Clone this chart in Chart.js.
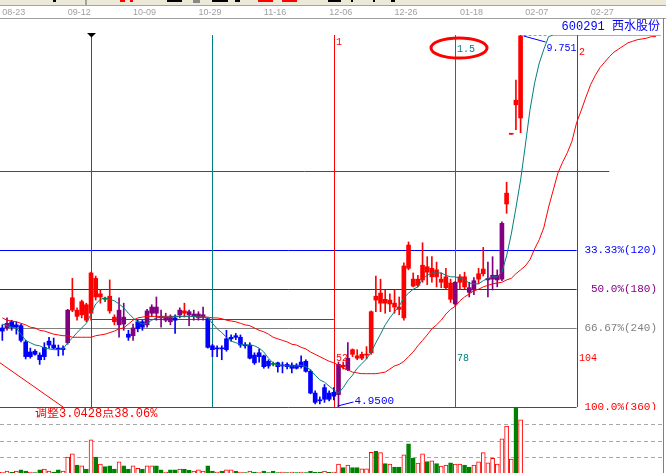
<!DOCTYPE html>
<html>
<head>
<meta charset="utf-8">
<title>600291 西水股份</title>
<script src="https://cdn.jsdelivr.net/npm/chart.js@4.4.1/dist/chart.umd.min.js"></script>
<style>
  html, body { margin: 0; padding: 0; background: #fff; overflow: hidden; }
  #wrap { position: relative; width: 666px; height: 473px; overflow: hidden; }
  #tool { position: absolute; left: 0; top: 0; width: 666px; height: 5px; background: #ece9d8; border-bottom: 1px solid #a5a597; }
  #tool i { position: absolute; top: 0; height: 2px; background: #000; }
  #tool i.r { background: #f00; }
  #tool i.g { background: #888; height: 3px; }
  #tool i.s { background: #a5a597; height: 5px; width: 2px; }
  #rule { position: absolute; left: 0; top: 18px; width: 666px; height: 1px; background: #a0a0a0; }
  #edge { position: absolute; left: 663px; top: 18px; width: 1px; height: 455px; background: #808080; }
  canvas { position: absolute; left: 0; }
  #price { top: 0; }
  #vol { top: 407px; }
</style>
</head>
<body>
<div id="wrap">
  <div id="tool">
    <i style="left:53px;width:3px"></i><i class="s" style="left:85px"></i>
    <i class="r" style="left:120px;width:5px"></i><i class="r" style="left:130px;width:3px"></i>
    <i style="left:167px;width:15px"></i><i class="g" style="left:193px;width:7px"></i>
    <i style="left:212px;width:16px"></i><i style="left:235px;width:5px"></i>
    <i class="r" style="left:258px;width:15px"></i><i class="r" style="left:282px;width:15px"></i>
    <i style="left:328px;width:13px"></i><i style="left:351px;width:2px"></i>
    <i style="left:373px;width:2px"></i><i style="left:391px;width:4px"></i>
  </div>
  <div id="rule"></div>
  <div id="edge"></div>
  <canvas id="price" width="666" height="410"></canvas>
  <canvas id="vol" width="666" height="67"></canvas>
</div>
<script>
// 1 slot = 1 trading day; chart keeps room to the right of the last bar
const SLOTS = 142;

const dateTicks = [0, 14, 28, 42, 56, 70, 84, 98, 112, 126];
const dateLabels = ["08-23", "09-12", "10-09", "10-29", "11-16", "12-06", "12-26", "01-18", "02-07", "02-27"];

// daily K line
const open = [
  5.97, 5.97, 6.05, 6.01, 6.00, 5.79, 5.66, 5.67, 5.62, 5.72,
  5.80, 5.75, 5.71, 5.71, 5.78, 6.20, 6.12, 6.14, 6.07, 6.16,
  6.37, 6.37, 6.34, 6.19, 6.05, 6.01, 6.11, 5.89, 5.87, 6.05,
  6.05, 6.01, 6.16, 6.24, 6.12, 6.07, 6.11, 6.10, 6.14, 6.16,
  6.18, 6.12, 6.10, 6.11, 6.09, 5.74, 5.71, 5.71, 5.83, 5.85,
  5.87, 5.85, 5.75, 5.75, 5.62, 5.65, 5.61, 5.54, 5.50, 5.52,
  5.49, 5.50, 5.49, 5.49, 5.53, 5.54, 5.41, 5.13, 5.04, 5.20,
  5.13, 5.14, 5.11, 5.47, 5.43, 5.63, 5.58, 5.58, 5.62, 5.65,
  6.33, 6.29, 6.29, 6.28, 6.24, 6.21, 6.10, 6.74, 6.51, 6.52,
  6.59, 6.69, 6.63, 6.63, 6.56, 6.49, 6.34, 6.28, 6.56, 6.50,
  6.49, 6.46, 6.60, 6.67, 6.59, 6.60, 6.59, 6.60, 7.57, 8.47,
  8.85, 8.68
];
const high = [
  6.01, 6.10, 6.07, 6.05, 6.02, 5.81, 5.71, 5.69, 5.65, 5.78,
  5.85, 5.84, 5.75, 5.74, 6.21, 6.61, 6.23, 6.33, 6.29, 6.69,
  6.64, 6.46, 6.37, 6.59, 6.14, 6.36, 6.29, 5.94, 6.02, 6.07,
  6.07, 6.21, 6.27, 6.37, 6.20, 6.16, 6.14, 6.14, 6.23, 6.29,
  6.20, 6.20, 6.18, 6.24, 6.10, 5.76, 5.74, 5.74, 5.94, 5.88,
  5.90, 5.88, 5.78, 5.78, 5.65, 5.70, 5.62, 5.56, 5.53, 5.53,
  5.53, 5.52, 5.52, 5.51, 5.61, 5.56, 5.43, 5.16, 5.08, 5.24,
  5.16, 5.20, 5.53, 5.53, 5.78, 5.70, 5.69, 5.66, 5.73, 6.19,
  6.64, 6.60, 6.46, 6.41, 6.46, 6.37, 6.81, 7.08, 6.68, 6.65,
  7.07, 6.89, 6.89, 6.82, 6.68, 6.74, 6.60, 6.57, 6.66, 6.69,
  6.56, 6.62, 6.74, 7.01, 6.82, 6.89, 6.72, 7.34, 7.85, 8.47,
  9.17, 9.751
];
const low = [
  5.81, 5.94, 5.94, 5.89, 5.79, 5.57, 5.58, 5.62, 5.50, 5.56,
  5.71, 5.70, 5.61, 5.62, 5.76, 6.18, 6.07, 6.10, 6.05, 6.07,
  6.33, 6.29, 6.31, 6.16, 6.01, 5.85, 5.94, 5.81, 5.81, 5.92,
  5.94, 5.98, 6.12, 6.07, 5.98, 6.05, 6.01, 5.90, 6.10, 6.11,
  6.00, 6.07, 6.07, 6.07, 5.71, 5.60, 5.60, 5.56, 5.67, 5.80,
  5.82, 5.72, 5.71, 5.57, 5.50, 5.53, 5.45, 5.45, 5.48, 5.40,
  5.39, 5.44, 5.39, 5.44, 5.45, 5.40, 5.12, 4.99, 4.99, 5.01,
  5.03, 5.04, 4.95, 5.44, 5.42, 5.60, 5.56, 5.56, 5.57, 5.63,
  6.18, 6.18, 6.16, 6.18, 6.16, 6.14, 6.07, 6.72, 6.50, 6.50,
  6.56, 6.53, 6.56, 6.50, 6.49, 6.47, 6.30, 6.26, 6.47, 6.47,
  6.37, 6.40, 6.54, 6.64, 6.37, 6.46, 6.50, 6.58, 7.45, 8.47,
  8.53, 8.49
];
const close = [
  5.93, 6.03, 5.98, 5.98, 5.81, 5.60, 5.60, 5.63, 5.56, 5.60,
  5.75, 5.71, 5.69, 5.69, 6.20, 6.36, 6.20, 6.31, 6.27, 6.68,
  6.61, 6.41, 6.34, 6.38, 6.11, 6.20, 6.02, 5.85, 5.97, 5.96,
  5.98, 6.19, 6.24, 6.16, 6.10, 6.11, 6.05, 6.07, 6.20, 6.19,
  6.14, 6.15, 6.15, 6.14, 5.72, 5.69, 5.70, 5.70, 5.69, 5.83,
  5.85, 5.75, 5.74, 5.58, 5.52, 5.60, 5.47, 5.48, 5.50, 5.47,
  5.48, 5.47, 5.45, 5.45, 5.47, 5.41, 5.13, 5.01, 5.03, 5.05,
  5.05, 5.09, 5.50, 5.49, 5.58, 5.69, 5.61, 5.63, 5.63, 6.18,
  6.38, 6.42, 6.34, 6.33, 6.29, 6.24, 6.77, 7.04, 6.60, 6.60,
  6.78, 6.76, 6.74, 6.72, 6.60, 6.63, 6.55, 6.56, 6.63, 6.63,
  6.43, 6.58, 6.67, 6.73, 6.61, 6.65, 6.65, 7.32, 7.71, 8.47,
  8.91, 9.74
];
// colour class the software gives each K bar (r up, b down, p signal, g doji)
const tone = [
  "b","p","b","b","b","b","b","b","b","b",
  "b","b","b","b","p","r","r","r","r","r",
  "r","r","g","r","r","p","p","b","p","b",
  "b","p","p","p","p","p","p","b","p","r",
  "p","p","p","p","b","b","b","b","b","b",
  "b","b","b","b","b","b","b","b","g","b",
  "b","b","b","b","b","b","b","b","b","b",
  "b","b","p","r","p","r","r","r","r","r",
  "r","r","r","r","r","r","r","r","r","r",
  "r","r","r","r","r","r","r","p","r","r",
  "p","p","r","r","p","p","p","p","r","r",
  "r","r"
];

// volume (per 100k lots) and its up/down side
const volume = [
  0.10, 0.18, 0.10, 0.18, 0.25, 0.18, 0.12, 0.08, 0.25, 0.30,
  0.18, 0.12, 0.25, 0.18, 1.04, 1.23, 0.55, 0.50, 0.30, 2.09,
  1.04, 0.60, 0.45, 0.50, 0.30, 0.74, 0.50, 0.30, 0.50, 0.35,
  0.30, 0.50, 0.50, 0.50, 0.25, 0.12, 0.25, 0.25, 0.30, 0.30,
  0.22, 0.18, 0.25, 0.18, 0.50, 0.18, 0.12, 0.18, 0.25, 0.25,
  0.18, 0.12, 0.08, 0.18, 0.12, 0.08, 0.18, 0.08, 0.18, 0.08,
  0.12, 0.08, 0.12, 0.08, 0.12, 0.08, 0.18, 0.10, 0.12, 0.18,
  0.10, 0.12, 0.61, 0.39, 0.55, 0.39, 0.39, 0.31, 0.31, 1.33,
  1.41, 1.31, 0.63, 0.61, 0.43, 0.43, 1.17, 1.84, 0.98, 0.67,
  1.23, 0.76, 0.80, 0.63, 0.49, 0.55, 0.69, 0.61, 0.61, 0.55,
  0.43, 0.55, 0.74, 1.31, 0.69, 0.96, 0.61, 2.15, 2.94, 0.92,
  4.09, 3.31
];
const volSide = [
  "u","u","d","u","d","d","u","d","d","u",
  "u","d","d","u","u","u","d","u","d","u",
  "d","u","d","d","d","u","d","d","u","u",
  "d","u","u","d","d","u","d","d","u","d",
  "d","u","u","u","d","d","u","d","u","u",
  "d","u","d","u","d","u","d","d","d","d",
  "u","d","u","d","u","d","d","d","d","u",
  "d","u","u","d","u","d","d","u","u","u",
  "d","u","d","u","d","d","u","d","d","u",
  "u","d","u","d","u","u","d","u","u","d",
  "d","u","u","u","u","u","u","u","u","u",
  "d","u"
];

// the two average lines (teal fast, red slow), they run past the last bar
const maFast = [
  6.02, 6.00, 5.98, 5.97, 5.89, 5.81, 5.78, 5.75, 5.74, 5.71,
  5.70, 5.69, 5.69, 5.70, 5.78, 5.84, 5.91, 5.97, 6.03, 6.15,
  6.28, 6.34, 6.36, 6.34, 6.32, 6.28, 6.23, 6.16, 6.10, 6.05,
  6.02, 6.03, 6.07, 6.10, 6.11, 6.11, 6.11, 6.12, 6.12, 6.12,
  6.12, 6.12, 6.11, 6.11, 6.10, 6.03, 5.96, 5.91, 5.85, 5.80,
  5.78, 5.76, 5.75, 5.75, 5.74, 5.71, 5.66, 5.58, 5.52, 5.49,
  5.49, 5.48, 5.48, 5.48, 5.49, 5.47, 5.43, 5.36, 5.30, 5.27,
  5.22, 5.17, 5.13, 5.20, 5.29, 5.36, 5.45, 5.51, 5.57, 5.66,
  5.78, 5.89, 6.01, 6.10, 6.18, 6.25, 6.36, 6.42, 6.47, 6.50,
  6.60, 6.65, 6.68, 6.68, 6.68, 6.65, 6.63, 6.63, 6.61, 6.59,
  6.55, 6.54, 6.54, 6.58, 6.61, 6.63, 6.63, 6.69, 6.90, 7.18,
  7.52, 7.88, 8.32, 8.78, 9.13, 9.39, 9.57, 9.73, 9.751, 9.751,
  9.751, 9.751, 9.751, 9.751, 9.751, 9.751, 9.751, 9.751, 9.751, 9.751,
  9.751, 9.751, 9.751, 9.751, 9.751, 9.751, 9.751, 9.751, 9.751, 9.751,
  9.751, 9.751
];
const maSlow = [
  6.10, 6.07, 6.06, 6.05, 6.03, 6.01, 5.98, 5.97, 5.94, 5.93,
  5.91, 5.89, 5.88, 5.87, 5.87, 5.85, 5.85, 5.85, 5.85, 5.85,
  5.87, 5.88, 5.89, 5.91, 5.93, 5.96, 5.97, 6.02, 6.07, 6.10,
  6.11, 6.12, 6.12, 6.12, 6.12, 6.12, 6.12, 6.12, 6.12, 6.12,
  6.12, 6.12, 6.11, 6.11, 6.11, 6.10, 6.10, 6.09, 6.07, 6.06,
  6.05, 6.03, 6.01, 6.00, 5.97, 5.94, 5.92, 5.89, 5.85, 5.83,
  5.81, 5.79, 5.76, 5.75, 5.72, 5.70, 5.66, 5.63, 5.60, 5.57,
  5.54, 5.52, 5.49, 5.45, 5.43, 5.40, 5.39, 5.38, 5.38, 5.38,
  5.38, 5.39, 5.40, 5.44, 5.48, 5.50, 5.54, 5.60, 5.66, 5.74,
  5.81, 5.88, 5.96, 6.01, 6.07, 6.15, 6.21, 6.25, 6.32, 6.37,
  6.41, 6.45, 6.47, 6.50, 6.52, 6.54, 6.55, 6.56, 6.59, 6.61,
  6.67, 6.72, 6.77, 6.85, 6.99, 7.11, 7.27, 7.53, 7.75, 7.97,
  8.11, 8.23, 8.38, 8.62, 8.78, 8.95, 9.11, 9.23, 9.33, 9.40,
  9.47, 9.53, 9.57, 9.61, 9.65, 9.67, 9.69, 9.70, 9.71, 9.73,
  9.73, null
];
// old falling trend line, lower left
const trendLine = [[-0.5, 5.52], [13, 4.95]];

// golden-section style adjustment levels from 7.9928 down to the low
const adjustFrom = 7.9928;
const fibPct = [0, 33.33, 50, 66.67, 100];
const fibText = ["", "33.33%(120)", "50.0%(180)", "66.67%(240)", "100.0%(360)"];
const boxLevel = 6.09;
const boxFrom = 19, boxTo = 71;

// time cycle lines every 26 bars
const cycleIdx = [19, 45, 71, 97, 123];
const cycleTop = ["", "", "1", "1.5", "2"];
const cycleCount = ["", "", "52", "78", "104"];

const title = "600291 西水股份";
const adjustText = "调整3.0428点38.06%";

// ---- styles ----
const palette = { r: "#ff0000", b: "#0000ff", p: "#800080", g: "#008000" };
const TEAL = "#008080", GREY = "#808080";
const fibColor = [palette.r, palette.b, palette.p, GREY, palette.r];
const fibEnd = [130, 123, 123, 123, 123];
const cycleColor = [palette.r, TEAL, palette.r, TEAL, palette.r];
const cycleTopY = [0, 0, 42, 49, 52];
const MONO = "'Liberation Mono', 'DejaVu Sans Mono', 'Noto Sans CJK SC', monospace";

const lo = Math.min(...low), hi = Math.max(...high);
const fibPrice = (p) => adjustFrom - (p / 100) * (adjustFrom - lo);
const snap = (v) => Math.round(v) + 0.5;

function seg(ctx, x1, y1, x2, y2, color) {
  ctx.strokeStyle = color;
  ctx.beginPath();
  ctx.moveTo(x1, y1);
  ctx.lineTo(x2, y2);
  ctx.stroke();
}

const marks = {
  id: "marks",
  beforeDatasetsDraw(chart) {
    const { ctx, chartArea: a, scales: { x, y } } = chart;
    ctx.save();
    ctx.lineWidth = 1;
    fibPct.forEach((p, k) => {
      const py = snap(y.getPixelForValue(fibPrice(p)));
      seg(ctx, a.left, py, x.getPixelForValue(fibEnd[k]), py, fibColor[k]);
    });
    const by = snap(y.getPixelForValue(boxLevel));
    seg(ctx, x.getPixelForValue(boxFrom), by, x.getPixelForValue(boxTo), by, palette.r);
    cycleIdx.forEach((i, k) => {
      const px = snap(x.getPixelForValue(i));
      seg(ctx, px, a.top, px, a.bottom, cycleColor[k]);
    });
    ctx.restore();
  },
  afterDatasetsDraw(chart) {
    const { ctx, chartArea: a, scales: { x, y } } = chart;
    ctx.save();
    ctx.textBaseline = "middle";

    // level labels at the right
    ctx.font = "11px " + MONO;
    ctx.textAlign = "right";
    fibPct.forEach((p, k) => {
      if (!fibText[k]) return;
      ctx.fillStyle = fibColor[k];
      ctx.fillText(fibText[k], a.right - 6, snap(y.getPixelForValue(fibPrice(p))));
    });

    // cycle labels
    ctx.textAlign = "left";
    ctx.font = "10px " + MONO;
    cycleIdx.forEach((i, k) => {
      const px = Math.round(x.getPixelForValue(i));
      ctx.fillStyle = cycleColor[k];
      if (cycleTop[k]) ctx.fillText(cycleTop[k], px + 2, cycleTopY[k]);
      if (cycleCount[k]) ctx.fillText(cycleCount[k], px + 2, a.bottom - 49);
    });

    // red ring round "1.5"
    const ex = Math.round(x.getPixelForValue(cycleIdx[3])) + 4;
    ctx.strokeStyle = palette.r;
    ctx.lineWidth = 3;
    ctx.beginPath();
    ctx.ellipse(ex, 48, 28, 10, 0, 0, Math.PI * 2);
    ctx.stroke();

    // marker on the first cycle line
    const tx = snap(x.getPixelForValue(cycleIdx[0]));
    ctx.fillStyle = "#000";
    ctx.fillRect(tx - 4, a.top - 2, 8, 1);
    ctx.beginPath();
    ctx.moveTo(tx - 3.5, a.top - 1);
    ctx.lineTo(tx + 3.5, a.top - 1);
    ctx.lineTo(tx, a.top + 2.5);
    ctx.closePath();
    ctx.fill();

    // highest / lowest price tags
    ctx.lineWidth = 1;
    const hx = x.getPixelForValue(high.indexOf(hi)), hy = y.getPixelForValue(hi);
    ctx.setLineDash([3, 2]);
    seg(ctx, hx + 3, hy + 0.5, hx + 27, hy + 0.5, "#a0a0a0");
    ctx.setLineDash([]);
    seg(ctx, hx + 3, hy + 1, hx + 25, hy + 7, palette.b);
    ctx.fillStyle = palette.b;
    ctx.fillText(hi.toFixed(3), hx + 26, hy + 13);

    const lx = x.getPixelForValue(low.indexOf(lo)), ly = y.getPixelForValue(lo);
    seg(ctx, lx - 1, ly - 1, lx + 15, ly - 5, palette.b);
    ctx.font = "11px " + MONO;
    ctx.fillText(lo.toFixed(4), lx + 16, ly - 6);

    // stock name
    ctx.font = "12px " + MONO;
    ctx.textAlign = "right";
    ctx.fillStyle = palette.b;
    ctx.fillText(title, 660, 27);
    ctx.restore();
  }
};

const toneColor = (c) => palette[tone[c.dataIndex]];
const pts = (arr) => arr.map((v, i) => ({ x: i, y: v }));

new Chart(document.getElementById("price"), {
  type: "bar",
  data: {
    datasets: [
      { type: "line", data: pts(maFast), borderColor: TEAL, borderWidth: 1, pointRadius: 0, tension: 0, order: 0 },
      { type: "line", data: pts(maSlow), borderColor: palette.r, borderWidth: 1, pointRadius: 0, tension: 0, order: 0 },
      { type: "line", data: trendLine.map(([i, v]) => ({ x: i, y: v })), borderColor: palette.r, borderWidth: 1, pointRadius: 0, order: 0 },
      {
        data: open.map((o, i) => ({ x: i, y: [o, close[i]] })),
        backgroundColor: toneColor, barThickness: 4, minBarLength: 1, grouped: false, order: 1
      },
      {
        data: high.map((h, i) => ({ x: i, y: [low[i], h] })),
        backgroundColor: toneColor, barThickness: 1, grouped: false, order: 2
      }
    ]
  },
  options: {
    responsive: false,
    animation: false,
    events: [],
    layout: { padding: { top: 0, left: 0, right: 3, bottom: 3 } },
    plugins: { legend: { display: false }, tooltip: { enabled: false } },
    scales: {
      x: {
        type: "linear", min: -0.5, max: SLOTS - 0.5, offset: false, position: "top",
        grid: { display: false, drawTicks: false },
        border: { display: false },
        afterBuildTicks: (s) => { s.ticks = dateTicks.map((v) => ({ value: v })); },
        afterFit: (s) => { s.height = 35; s.paddingLeft = 0; s.paddingRight = 0; },
        ticks: {
          autoSkip: false, maxRotation: 0, align: "start", padding: 17,
          color: "#a0a0a0",
          font: { family: "'Liberation Sans', Arial, sans-serif", size: 9 },
          callback: (v) => dateLabels[dateTicks.indexOf(v)] ?? ""
        }
      },
      y: { display: false, min: lo, max: hi }
    }
  },
  plugins: [marks]
});

const volNote = {
  id: "volNote",
  afterDraw(chart) {
    const ctx = chart.ctx;
    ctx.save();
    ctx.font = "12px " + MONO;
    ctx.fillStyle = palette.r;
    ctx.textBaseline = "middle";
    ctx.fillText(adjustText, 35, 7);
    ctx.restore();
  }
};

new Chart(document.getElementById("vol"), {
  type: "bar",
  data: {
    datasets: [{
      data: pts(volume),
      backgroundColor: (c) => (volSide[c.dataIndex] === "u" ? "#ffffff" : palette.g),
      borderColor: (c) => (volSide[c.dataIndex] === "u" ? palette.r : palette.g),
      borderWidth: 1, barThickness: 4, grouped: false
    }]
  },
  options: {
    responsive: false,
    animation: false,
    events: [],
    layout: { padding: { top: 0, left: 0, right: 3, bottom: 0 } },
    plugins: { legend: { display: false }, tooltip: { enabled: false } },
    scales: {
      x: { type: "linear", min: -0.5, max: SLOTS - 0.5, offset: false, display: false },
      y: {
        min: 0, max: 4.1,
        afterFit: (s) => { s.width = 0; },
        ticks: { display: false, stepSize: 1 },
        border: { display: false, dash: [4, 3] },
        grid: {
          drawTicks: false,
          color: (c) => ([1, 2, 3].includes(c.tick && c.tick.value) ? "#a8a8a8" : "rgba(0,0,0,0)")
        }
      }
    }
  },
  plugins: [volNote]
});
</script>
</body>
</html>
